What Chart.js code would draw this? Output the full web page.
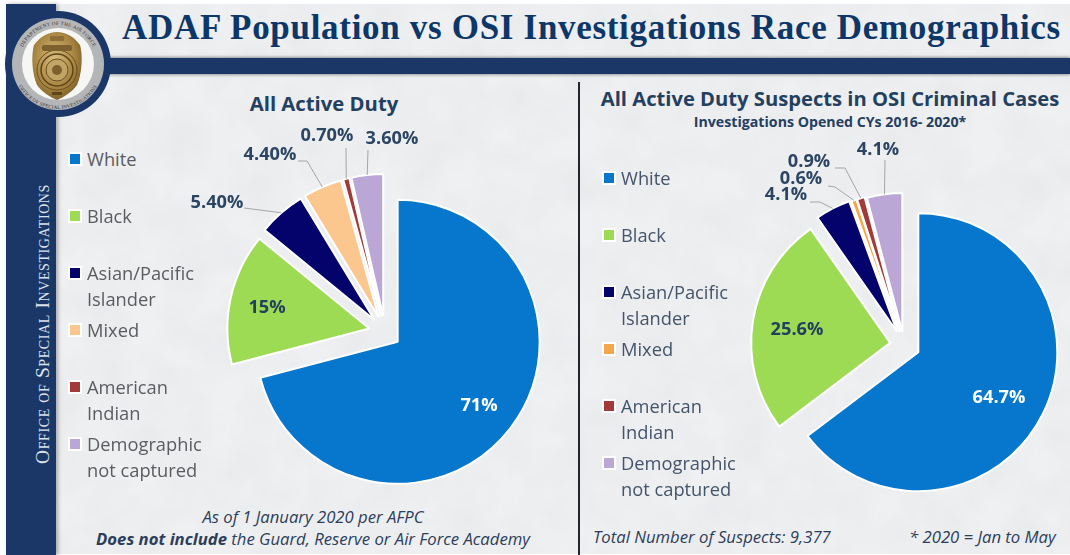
<!DOCTYPE html>
<html><head><meta charset="utf-8">
<style>
html,body{margin:0;padding:0;width:1070px;height:555px;overflow:hidden;background:#fff}
#bg{position:absolute;left:6px;top:4px;width:1064px;height:550px;background:#eff0f2;overflow:hidden}
#bg svg{position:absolute;left:0;top:0}
.abs{position:absolute;white-space:nowrap}
#side{position:absolute;left:6px;top:4px;width:50px;height:551px;background:#1b3768;box-shadow:2px 0 4px rgba(0,0,0,.3)}
#bar{position:absolute;left:56px;top:58px;width:1014px;height:16px;background:#1b3768;box-shadow:0 -1px 3px rgba(0,0,0,.35),0 1px 3px rgba(0,0,0,.3)}
#title{left:122px;top:8px;font:bold 35px "Liberation Serif",serif;color:#0c3768;letter-spacing:.69px}
#sideText{left:43px;top:324px;transform:translate(-50%,-50%) rotate(-90deg);font:19.5px "Liberation Serif",serif;font-variant:small-caps;color:#dde3ea;letter-spacing:.6px}
#divider{position:absolute;left:578px;top:82px;width:2px;height:473px;background:#22262c}
.head{font-family:"Open Sans",sans-serif;font-weight:700;color:#24405f;transform:translateX(-50%)}
.foot{font:italic 16.7px "Open Sans",sans-serif;color:#2c3e5a}
canvas{position:absolute}
.lg{position:absolute;font:18.3px/26px "Open Sans",sans-serif}
.lg .sw{position:absolute;width:10px;height:10px;border:2px solid #fff;top:6px}
.lg span.t{display:block;white-space:pre}
</style></head><body>
<div id="bg"><svg width="1064" height="550"><filter id="n"><feTurbulence type="fractalNoise" baseFrequency="0.025" numOctaves="3" seed="4"/><feColorMatrix values="0 0 0 0 0.62  0 0 0 0 0.63  0 0 0 0 0.65  0.3 0 0 0 -0.08"/></filter><rect width="1064" height="550" filter="url(#n)"/></svg></div>
<div id="bar"></div><div id="side"></div>
<div class="abs" id="title">ADAF Population vs OSI Investigations Race Demographics</div>
<div class="abs" id="sideText">Office of Special Investigations</div>
<svg class="abs" style="left:0;top:0" width="125" height="125">
<defs>
<radialGradient id="g" cx=".45" cy=".4" r=".7"><stop offset="0" stop-color="#d9bd7e"/><stop offset=".6" stop-color="#a6843f"/><stop offset="1" stop-color="#6b4f20"/></radialGradient>
<path id="top" d="M 19 64 A 39 39 0 0 1 97 64"/><path id="bot" d="M 13 64 A 45 45 0 0 0 103 64"/>
</defs>
<circle cx="58" cy="64" r="53" fill="#1b3768"/>
<circle cx="58" cy="64" r="46" fill="#b4b5b6"/>
<circle cx="58" cy="64" r="36" fill="#f6f6f5"/>
<text font-family="Liberation Serif" font-size="5" fill="#333" letter-spacing=".35"><textPath href="#top" startOffset="50%" text-anchor="middle">DEPARTMENT OF THE AIR FORCE</textPath></text>
<text font-family="Liberation Serif" font-size="5" fill="#333" letter-spacing=".2"><textPath href="#bot" startOffset="50%" text-anchor="middle">OFFICE OF SPECIAL INVESTIGATIONS</textPath></text>
<path d="M57 32 C66 32 74 37 80 45 C83 55 82 74 77 85 C72 92 64 97 57 100 C50 97 42 92 37 85 C32 74 31 55 34 45 C40 37 48 32 57 32Z" fill="url(#g)"/>
<circle cx="57" cy="70" r="20" fill="none" stroke="#6b4f20" stroke-width="1"/>
<circle cx="57" cy="70" r="16" fill="none" stroke="#5e4519" stroke-width="1.5"/>
<circle cx="57" cy="70" r="11" fill="#c2a566" stroke="#6b4f20"/>
<circle cx="57" cy="70" r="5" fill="#7d6030"/>
<rect x="42" y="45" width="30" height="6" rx="2" fill="#7d6030"/>
<rect x="50" y="36" width="14" height="5" rx="1" fill="#8d6e38"/>
<rect x="52" y="92" width="10" height="3" fill="#5e4519"/>
</svg>
<div id="divider"></div>
<div class="abs head" style="left:324px;top:89px;font-size:20.3px">All Active Duty</div>
<div class="abs head" style="left:830px;top:84px;font-size:20.2px">All Active Duty Suspects in OSI Criminal Cases</div>
<div class="abs head" style="left:830px;top:112px;font-size:14.2px">Investigations Opened CYs 2016- 2020*</div>
<div class="abs foot" style="left:313px;top:505px;transform:translateX(-50%)">As of 1 January 2020 per AFPC</div>
<div class="abs foot" style="left:313px;top:527px;transform:translateX(-50%)"><b>Does not include</b> the Guard, Reserve or Air Force Academy</div>
<div class="abs foot" style="left:593px;top:525px">Total Number of Suspects: 9,377</div>
<div class="abs foot" style="left:909px;top:525px">* 2020 = Jan to May</div>
<canvas id="left" width="440" height="420" style="left:165px;top:122px"></canvas>
<canvas id="right" width="332" height="422" style="left:738px;top:134px"></canvas>
<div id="lgL"></div><div id="lgR"></div>
<script src="https://cdn.jsdelivr.net/npm/chart.js@4"></script>
<script>
const categories = ["White","Black","Asian/Pacific\nIslander","Mixed","American\nIndian","Demographic\nnot captured"];
const sliceColors = ["#0677cc","#9ddb55","#03036b","#fcc78e","#a33a3a","#bba7d6"];
const mixedColorRight = "#f5a54a";
const activeDutyValues = [71,15,5.4,4.4,0.7,3.6];
const activeDutyLabels = ["71%","15%","5.40%","4.40%","0.70%","3.60%"];
const suspectValues = [64.7,25.6,4.1,0.6,0.9,4.1];
const suspectLabels = ["64.7%","25.6%","4.1%","0.6%","0.9%","4.1%"];
const labelPlaceLeft = [[479,406],[267,308],[217,203],[270,155],[327,136],[392,139]];
const leaderLeft = [null,null,[[244,208]],[[298,161],[307,161]],[[346,148]],[[368,150]]];
const labelPlaceRight = [[999,398],[797,330],[786,195],[801,179],[809,162],[878,150]];
const leaderRight = [null,null,[[810,202],[820,202]],[[828,186],[835,187]],[[835,168],[845,168]],[[885,160]]];
const labelColors = ["#fff","#24405f","#2b4562","#2b4562","#2b4562","#2b4562"];

// Explode slices radially by moving each arc along its own mid-angle (true radius and true angle kept).
const explode = {
  id:'explode',
  beforeDatasetsDraw(chart,_,o){
    const cx=(chart.chartArea.left+chart.chartArea.right)/2, cy=(chart.chartArea.top+chart.chartArea.bottom)/2;
    chart.getDatasetMeta(0).data.forEach((arc,i)=>{
      const mid=(arc.startAngle+arc.endAngle)/2;
      arc.x=cx+o.gaps[i]*Math.cos(mid); arc.y=cy+o.gaps[i]*Math.sin(mid);
    });
  }
};
const annotate = {
  id:'annotate',
  afterDatasetsDraw(chart,_,o){
    const ctx=chart.ctx, arcs=chart.getDatasetMeta(0).data;
    ctx.save();
    arcs.forEach((arc,i)=>{
      const mid=(arc.startAngle+arc.endAngle)/2;
      if(o.leaders[i]){
        ctx.beginPath();ctx.strokeStyle='#a3a5a8';ctx.lineWidth=1;
        o.leaders[i].forEach((q,k)=>{const x=q[0]-o.ox,y=q[1]-o.oy;k?ctx.lineTo(x,y):ctx.moveTo(x,y);});
        ctx.lineTo(arc.x+arc.outerRadius*Math.cos(mid),arc.y+arc.outerRadius*Math.sin(mid));
        ctx.stroke();
      }
      ctx.font='700 18.2px "Open Sans", sans-serif';ctx.textAlign='center';ctx.textBaseline='middle';
      ctx.fillStyle=labelColors[i];
      ctx.fillText(o.labels[i],o.places[i][0]-o.ox,o.places[i][1]-o.oy);
    });
    ctx.restore();
  }
};
function pie(id,values,colors,gaps,radius,labels,places,leaders,ox,oy){
  return new Chart(document.getElementById(id),{
    type:'pie',
    data:{labels:categories.map(c=>c.replace('\n',' ')),datasets:[{data:values,backgroundColor:colors,borderColor:'#fff',borderWidth:2}]},
    options:{responsive:false,animation:false,radius:radius,layout:{padding:0},
      plugins:{legend:{display:false},tooltip:{enabled:false},explode:{gaps},annotate:{labels,places,leaders,ox,oy}}},
    plugins:[explode,annotate]
  });
}
pie('left',activeDutyValues,sliceColors,[16,16,16,16,16,16],142,activeDutyLabels,labelPlaceLeft,leaderLeft,165,122);
pie('right',suspectValues,sliceColors.map((c,i)=>i===3?mixedColorRight:c),[16,14,15,14,14,13],139,suspectLabels,labelPlaceRight,leaderRight,738,134);

function legend(id,x,y0,color,colors){
  const pitch=57, host=document.getElementById(id);
  categories.forEach((c,i)=>{
    const d=document.createElement('div');d.className='lg';
    d.style.left=x+'px';d.style.top=(y0+i*pitch-13)+'px';d.style.color=color;d.style.paddingLeft='17px';
    const s=document.createElement('span');s.className='sw';s.style.left='-2px';s.style.background=colors[i];d.appendChild(s);
    const t=document.createElement('span');t.className='t';t.textContent=c;d.appendChild(t);
    host.appendChild(d);
  });
}
legend('lgL',70,158.5,'#5a5c60',sliceColors);
legend('lgR',604,178,'#44546a',sliceColors.map((c,i)=>i===3?mixedColorRight:c));
</script>
</body></html>
